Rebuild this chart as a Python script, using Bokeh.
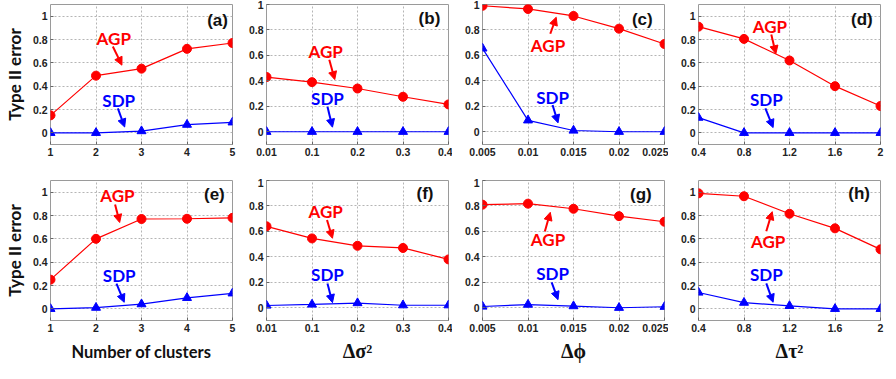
from bokeh.plotting import figure
from bokeh.models import Range1d, FixedTicker, Arrow, NormalHead, Label
from bokeh.layouts import column, row
from bokeh.embed import file_html
from bokeh.resources import INLINE

# ---------------- data ----------------
x_idx = [0, 1, 2, 3, 4]
ticks_clusters = ["1", "2", "3", "4", "5"]
ticks_dsigma = ["0.01", "0.1", "0.2", "0.3", "0.4"]
ticks_dphi = ["0.005", "0.01", "0.015", "0.02", "0.025"]
ticks_dtau = ["0.4", "0.8", "1.2", "1.6", "2"]

agp_a = [0.15, 0.49, 0.55, 0.72, 0.77]
sdp_a = [0.0, 0.0, 0.015, 0.07, 0.09]
agp_b = [0.43, 0.39, 0.34, 0.275, 0.215]
sdp_b = [0.0, 0.0, 0.0, 0.0, 0.0]
agp_c = [0.99, 0.965, 0.91, 0.81, 0.69]
sdp_c = [0.655, 0.09, 0.01, 0.0, 0.0]
agp_d = [0.91, 0.805, 0.62, 0.40, 0.23]
sdp_d = [0.13, 0.0, 0.0, 0.0, 0.0]
agp_e = [0.25, 0.60, 0.77, 0.772, 0.78]
sdp_e = [0.0, 0.01, 0.04, 0.094, 0.133]
agp_f = [0.64, 0.545, 0.487, 0.47, 0.38]
sdp_f = [0.018, 0.026, 0.037, 0.02, 0.02]
agp_g = [0.81, 0.818, 0.778, 0.72, 0.676]
sdp_g = [0.01, 0.025, 0.013, 0.0, 0.008]
agp_h = [0.99, 0.965, 0.815, 0.69, 0.51]
sdp_h = [0.14, 0.053, 0.025, 0.0, 0.0]

y_ticks = [0, 0.2, 0.4, 0.6, 0.8, 1]
y_tick_labels = ["0", "0.2", "0.4", "0.6", "0.8", "1"]

# ---------------- panel layout / annotation config ----------------
panels = [
    dict(letter="(a)", xt=ticks_clusters, agp=agp_a, sdp=sdp_a, ytop=1.1, xl=None, yl="Type II error",
         lp=(3.9, 0.96), at=(1.39, 0.81), aa=(1.37, 0.74, 1.57, 0.58), st=(1.5, 0.28), sa=(1.48, 0.21, 1.63, 0.05)),
    dict(letter="(b)", xt=ticks_dsigma, agp=agp_b, sdp=sdp_b, ytop=1.0, xl=None, yl=None,
         lp=(3.82, 0.89), at=(1.30, 0.63), aa=(1.38, 0.566, 1.50, 0.41), st=(1.34, 0.26), sa=(1.34, 0.197, 1.45, 0.036)),
    dict(letter="(c)", xt=ticks_dphi, agp=agp_c, sdp=sdp_c, ytop=1.0, xl=None, yl=None,
         lp=(3.74, 0.88), at=(1.44, 0.68), aa=(1.49, 0.77, 1.62, 0.90), st=(1.54, 0.27), sa=(1.54, 0.21, 1.66, 0.07)),
    dict(letter="(d)", xt=ticks_dtau, agp=agp_d, sdp=sdp_d, ytop=1.1, xl=None, yl=None,
         lp=(3.83, 0.97), at=(1.57, 0.915), aa=(1.60, 0.843, 1.70, 0.678), st=(1.49, 0.287), sa=(1.47, 0.21, 1.64, 0.045)),
    dict(letter="(e)", xt=ticks_clusters, agp=agp_e, sdp=sdp_e, ytop=1.1, xl="Number of clusters", yl="Type II error",
         lp=(3.83, 0.98), at=(1.47, 0.97), aa=(1.42, 0.895, 1.52, 0.74), st=(1.51, 0.29), sa=(1.45, 0.216, 1.62, 0.056)),
    dict(letter="(f)", xt=ticks_dsigma, agp=agp_f, sdp=sdp_f, ytop=1.0, xl="Δσ²", yl=None,
         lp=(3.67, 0.90), at=(1.30, 0.76), aa=(1.33, 0.69, 1.45, 0.546), st=(1.34, 0.265), sa=(1.34, 0.19, 1.45, 0.04)),
    dict(letter="(g)", xt=ticks_dphi, agp=agp_g, sdp=sdp_g, ytop=1.0, xl="Δϕ", yl=None,
         lp=(3.72, 0.89), at=(1.44, 0.535), aa=(1.37, 0.60, 1.49, 0.75), st=(1.54, 0.27), sa=(1.52, 0.20, 1.66, 0.064)),
    dict(letter="(h)", xt=ticks_dtau, agp=agp_h, sdp=sdp_h, ytop=1.1, xl="Δτ²", yl=None,
         lp=(3.77, 0.99), at=(1.53, 0.58), aa=(1.49, 0.665, 1.62, 0.833), st=(1.49, 0.297), sa=(1.49, 0.218, 1.64, 0.056)),
]

RED = "#ff0000"
BLUE = "#0000ff"
TICK_FONT = "Liberation Sans"
LABEL_FONT = "Lato"


def make_panel(i, cfg):
    top_row = i < 4
    first_col = (i % 4) == 0
    p = figure(
        frame_width=182, frame_height=140,
        x_range=Range1d(0, 4), y_range=Range1d(-0.1, cfg["ytop"]),
        output_backend="svg", toolbar_location=None,
        min_border_left=46 if first_col else 30,
        min_border_right=4,
        min_border_top=4 if top_row else 2,
        min_border_bottom=34 if top_row else 43,
    )
    p.background_fill_color = "white"
    p.border_fill_color = "white"
    p.outline_line_color = "#9a9a9a"
    p.outline_line_width = 1

    # axes
    p.xaxis.ticker = FixedTicker(ticks=x_idx)
    p.xaxis.major_label_overrides = {k: v for k, v in zip(x_idx, cfg["xt"])}
    p.yaxis.ticker = FixedTicker(ticks=y_ticks)
    p.yaxis.major_label_overrides = {k: v for k, v in zip(y_ticks, y_tick_labels)}
    for ax in (p.xaxis[0], p.yaxis[0]):
        ax.axis_line_color = None
        ax.major_tick_in = 3
        ax.major_tick_out = 0
        ax.major_tick_line_color = "#666666"
        ax.minor_tick_line_color = None
        ax.major_label_text_font = TICK_FONT
        ax.major_label_text_font_style = "bold"
        ax.major_label_text_font_size = "10.5px"
        ax.major_label_text_color = "#222222"
        ax.major_label_standoff = 3
    if cfg["yl"]:
        p.yaxis.axis_label = cfg["yl"]
        p.yaxis.axis_label_text_font = LABEL_FONT
        p.yaxis.axis_label_text_font_style = "bold"
        p.yaxis.axis_label_text_font_size = "17px"
        p.yaxis.axis_label_text_color = "#111111"
        p.yaxis.axis_label_standoff = 5
    if cfg["xl"]:
        p.xaxis.axis_label = cfg["xl"]
        if cfg["xl"].startswith("Number"):
            p.xaxis.axis_label_text_font = LABEL_FONT
            p.xaxis.axis_label_text_font_size = "16.5px"
            p.xaxis.axis_label_standoff = 7
        else:
            p.xaxis.axis_label_text_font = "Liberation Serif"
            p.xaxis.axis_label_text_font_size = "20px"
            p.xaxis.axis_label_standoff = 5
        p.xaxis.axis_label_text_font_style = "bold"
        p.xaxis.axis_label_text_color = "#111111"

    # grid
    for g in (p.xgrid[0], p.ygrid[0]):
        g.grid_line_color = "#b5b5b5"
        g.grid_line_dash = "2 2"
        g.grid_line_width = 1

    # series
    p.line(x_idx, cfg["agp"], line_color=RED, line_width=1.2)
    p.scatter(x_idx, cfg["agp"], marker="circle", size=9, fill_color=RED, line_color=RED)
    p.line(x_idx, cfg["sdp"], line_color=BLUE, line_width=1.2)
    p.scatter(x_idx, cfg["sdp"], marker="triangle", size=9, fill_color=BLUE, line_color=BLUE)

    # annotations
    for txt, pos, arr, col in (("AGP", cfg["at"], cfg["aa"], RED), ("SDP", cfg["st"], cfg["sa"], BLUE)):
        p.add_layout(Label(x=pos[0], y=pos[1], text=txt, text_align="center", text_baseline="middle",
                           text_color=col, text_font=LABEL_FONT, text_font_style="bold",
                           text_font_size="17px"))
        p.add_layout(Arrow(end=NormalHead(size=8, fill_color=col, line_color=col),
                           x_start=arr[0], y_start=arr[1], x_end=arr[2], y_end=arr[3],
                           line_color=col, line_width=2))
    p.add_layout(Label(x=cfg["lp"][0], y=cfg["lp"][1], text=cfg["letter"], text_align="right",
                       text_baseline="middle", text_color="#111111", text_font=TICK_FONT,
                       text_font_style="bold", text_font_size="17px"))
    return p


figs = [make_panel(i, c) for i, c in enumerate(panels)]
layout = column(row(*figs[:4]), row(*figs[4:]))

open("out.html", "w").write(file_html(layout, INLINE))
